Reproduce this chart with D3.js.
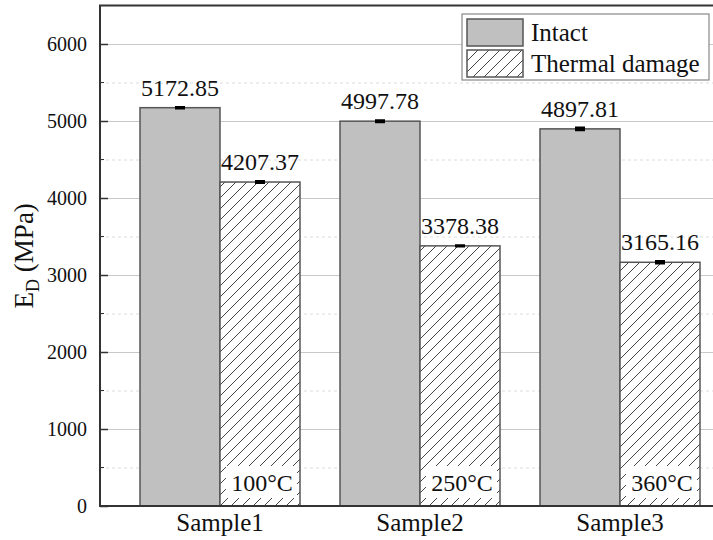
<!DOCTYPE html>
<html>
<head>
<meta charset="utf-8">
<script src="https://cdn.jsdelivr.net/npm/d3@7"></script>
<style>
  body { margin: 0; background: #fff; }
</style>
</head>
<body>
<script>
(function() {
  'use strict';

  var width = 713,
      height = 540,
      margin = {left: 100, right: -27, top: 5.5, bottom: 34},
      serif = "'Liberation Serif'";

  // data
  var samples = ["Sample1", "Sample2", "Sample3"];
  var series = ["Intact", "Thermal damage"];
  var intact = [5172.85, 4997.78, 4897.81];
  var thermal = [4207.37, 3378.38, 3165.16];
  var intactErr = [6, 10, 14];
  var thermalErr = [10, 4, 14];
  var temps = ["100°C", "250°C", "360°C"];
  var yTicks = [0, 1000, 2000, 3000, 4000, 5000, 6000];

  var svg = d3.select("body").append("svg")
      .attr("width", width)
      .attr("height", height)
      .attr("font-family", serif);

  var defs = svg.append("defs");
  var pat = defs.append("pattern")
      .attr("id", "hatch")
      .attr("patternUnits", "userSpaceOnUse")
      .attr("width", 11)
      .attr("height", 11);
  pat.append("rect").attr("width", 11).attr("height", 11).attr("fill", "#fff");
  pat.append("path")
      .attr("d", "M-2,13 L13,-2 M-2,2 L2,-2 M9,13 L13,9")
      .attr("stroke", "#444")
      .attr("stroke-width", 1);

  var x0 = margin.left,
      x1 = width - margin.right,
      yb = height - margin.bottom;

  var x = d3.scaleBand().domain(samples).range([x0, x1])
      .paddingInner(0.2).paddingOuter(0.2);
  var xs = d3.scaleBand().domain(series).range([0, x.bandwidth()]);
  var y = d3.scaleLinear().domain([0, 6500]).range([yb, margin.top]);

  // grid
  var minor = d3.range(500, 6500, 1000);
  svg.append("g").selectAll("line").data(minor).enter().append("line")
      .attr("x1", x0).attr("x2", width)
      .attr("y1", function(d) { return y(d) + 0.5; })
      .attr("y2", function(d) { return y(d) + 0.5; })
      .attr("stroke", "#dcdcdc")
      .attr("stroke-dasharray", "3,3");
  svg.append("g").selectAll("line").data(yTicks.slice(1)).enter().append("line")
      .attr("x1", x0).attr("x2", width)
      .attr("y1", function(d) { return y(d) + 0.5; })
      .attr("y2", function(d) { return y(d) + 0.5; })
      .attr("stroke", "#c8c8c8");

  var rows = samples.map(function(s, i) {
    return [
      {s: s, k: series[0], v: intact[i], e: intactErr[i], i: i},
      {s: s, k: series[1], v: thermal[i], e: thermalErr[i], i: i}
    ];
  });
  var flat = [].concat.apply([], rows);

  var bars = svg.append("g").selectAll("g").data(flat).enter().append("g");

  bars.append("rect")
      .attr("x", function(d) { return x(d.s) + xs(d.k); })
      .attr("y", function(d) { return y(d.v); })
      .attr("width", xs.bandwidth())
      .attr("height", function(d) { return yb - y(d.v); })
      .attr("fill", function(d) { return d.k === series[0] ? "#c0c0c0" : "url(#hatch)"; })
      .attr("stroke", "#555")
      .attr("stroke-width", 1.5);

  // error bars
  bars.append("path")
      .attr("d", function(d) {
        var cx = x(d.s) + xs(d.k) + xs.bandwidth() / 2;
        var t = y(d.v + d.e), b = y(d.v - d.e);
        return "M" + (cx - 5) + "," + t + "H" + (cx + 5) +
               "M" + cx + "," + t + "V" + b +
               "M" + (cx - 5) + "," + b + "H" + (cx + 5);
      })
      .attr("stroke", "#000")
      .attr("stroke-width", 2.5)
      .attr("fill", "none");

  bars.append("text")
      .attr("x", function(d) { return x(d.s) + xs(d.k) + xs.bandwidth() / 2; })
      .attr("y", function(d) { return y(d.v) - 12; })
      .attr("text-anchor", "middle")
      .attr("font-size", 24)
      .text(function(d) { return d.v.toFixed(2); });

  // temperature labels
  var tg = svg.append("g").selectAll("g").data(temps).enter().append("g");
  tg.append("rect")
      .attr("x", function(d, i) { return x(samples[i]) + xs(series[1]) + 6; })
      .attr("y", yb - 40)
      .attr("width", xs.bandwidth() - 9)
      .attr("height", 32)
      .attr("fill", "#fff");
  tg.append("text")
      .attr("x", function(d, i) { return x(samples[i]) + xs(series[1]) + xs.bandwidth() / 2 + 2; })
      .attr("y", yb - 15)
      .attr("text-anchor", "middle")
      .attr("font-size", 24)
      .text(function(d) { return d; });

  // axes
  var yAxis = d3.axisLeft(y).tickValues(yTicks).tickFormat(d3.format("d"))
      .tickSize(-8).tickPadding(13);
  var ya = svg.append("g").attr("transform", "translate(" + x0 + ",0)").call(yAxis);
  ya.select(".domain").remove();
  ya.selectAll("line").attr("stroke", "#333").attr("stroke-width", 1.5);
  ya.selectAll("text").attr("font-size", 20);
  svg.append("g").selectAll("line").data(minor).enter().append("line")
      .attr("x1", x0).attr("x2", x0 + 4)
      .attr("y1", function(d) { return y(d); })
      .attr("y2", function(d) { return y(d); })
      .attr("stroke", "#333");

  var xAxis = d3.axisBottom(x).tickSize(0).tickPadding(7);
  var xa = svg.append("g").attr("transform", "translate(0," + yb + ")").call(xAxis);
  xa.select(".domain").remove();
  xa.selectAll("text").attr("font-size", 25);

  // frame
  svg.append("path")
      .attr("d", "M" + width + "," + margin.top + "H" + x0 + "V" + yb + "H" + width)
      .attr("fill", "none")
      .attr("stroke", "#333")
      .attr("stroke-width", 2);

  // y title
  var yt = svg.append("text")
      .attr("transform", "translate(33," + (y(3250)) + ") rotate(-90)")
      .attr("text-anchor", "middle")
      .attr("font-size", 27);
  yt.append("tspan").text("E");
  yt.append("tspan").attr("dy", 6).attr("font-size", 18).text("D");
  yt.append("tspan").attr("dy", -6).text(" (MPa)");

  // legend
  var lg = svg.append("g").attr("transform", "translate(462,14)");
  lg.append("rect").attr("width", 247).attr("height", 66)
      .attr("fill", "#fff").attr("stroke", "#888").attr("stroke-width", 1.2);
  var li = lg.selectAll("g").data(series).enter().append("g")
      .attr("transform", function(d, i) { return "translate(5," + (5 + i * 31) + ")"; });
  li.append("rect").attr("width", 56).attr("height", 27)
      .attr("fill", function(d, i) { return i === 0 ? "#c0c0c0" : "url(#hatch)"; })
      .attr("stroke", "#555").attr("stroke-width", 1.5);
  li.append("text").attr("x", 64).attr("y", 22)
      .attr("font-size", 25)
      .text(function(d) { return d; });

  // make every label use the serif face
  svg.selectAll("text")
      .attr("font-family", serif)
      .style("font-family", serif)
      .attr("fill", "#111");

})();
</script>
</body>
</html>
